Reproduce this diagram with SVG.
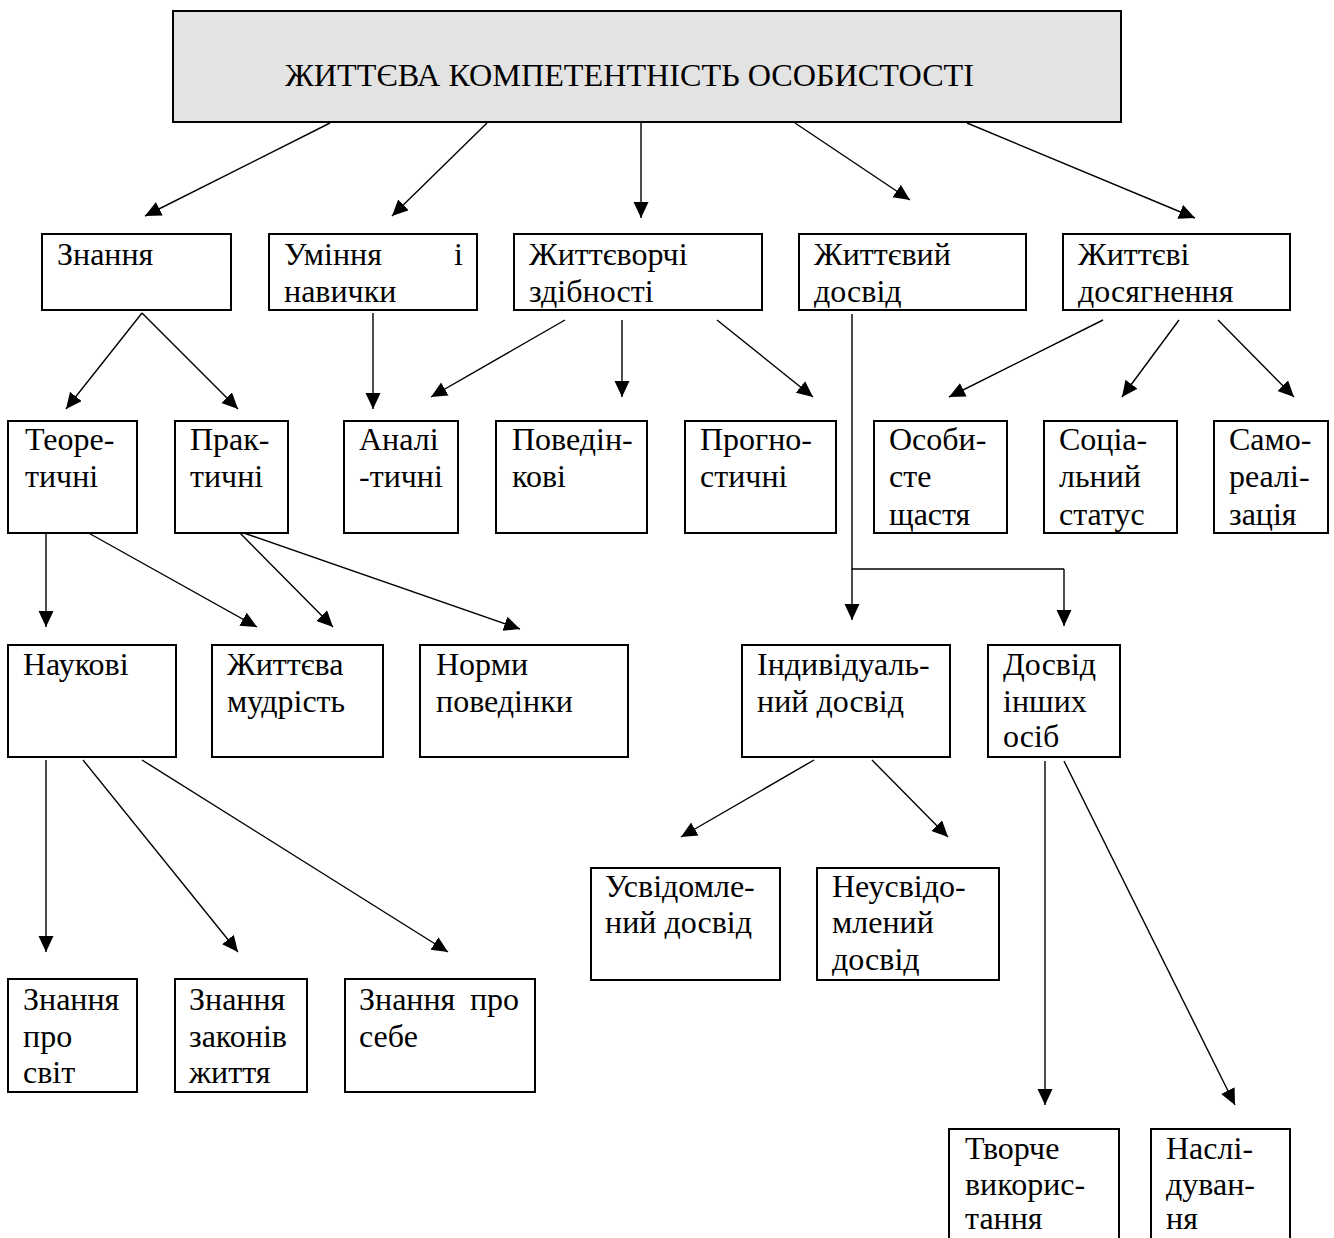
<svg xmlns="http://www.w3.org/2000/svg" width="1334" height="1238" viewBox="0 0 1334 1238">
<style>
.b{fill:#fff;stroke:#000;stroke-width:2}
.t{font-family:"Liberation Serif","Times New Roman",serif;font-size:32px;fill:#000}
.c{fill:none;stroke:#000;stroke-width:1.4}
</style>
<defs>
<marker id="ah" markerUnits="userSpaceOnUse" markerWidth="18" markerHeight="16" refX="16" refY="7.5" orient="auto">
<path d="M0,0 L16,7.5 L0,15 z" fill="#000"/>
</marker>
</defs>
<rect width="1334" height="1238" fill="#fff"/>
<g id="connectors">
<line class="c" x1="330" y1="123" x2="145" y2="216" marker-end="url(#ah)"/>
<line class="c" x1="487" y1="123" x2="392" y2="216" marker-end="url(#ah)"/>
<line class="c" x1="641" y1="123" x2="641" y2="218" marker-end="url(#ah)"/>
<line class="c" x1="795" y1="123" x2="910" y2="200" marker-end="url(#ah)"/>
<line class="c" x1="967" y1="123" x2="1195" y2="218" marker-end="url(#ah)"/>
<line class="c" x1="142" y1="313" x2="66" y2="409" marker-end="url(#ah)"/>
<line class="c" x1="142" y1="313" x2="238" y2="409" marker-end="url(#ah)"/>
<line class="c" x1="373" y1="313" x2="373" y2="409" marker-end="url(#ah)"/>
<line class="c" x1="565" y1="320" x2="431" y2="397" marker-end="url(#ah)"/>
<line class="c" x1="622" y1="320" x2="622" y2="397" marker-end="url(#ah)"/>
<line class="c" x1="717" y1="320" x2="813" y2="397" marker-end="url(#ah)"/>
<polyline class="c" points="852,314 852,569 1064,569"/>
<line class="c" x1="852" y1="569" x2="852" y2="620" marker-end="url(#ah)"/>
<line class="c" x1="1064" y1="569" x2="1064" y2="626" marker-end="url(#ah)"/>
<line class="c" x1="1103" y1="320" x2="949" y2="397" marker-end="url(#ah)"/>
<line class="c" x1="1179" y1="320" x2="1122" y2="397" marker-end="url(#ah)"/>
<line class="c" x1="1218" y1="320" x2="1294" y2="397" marker-end="url(#ah)"/>
<line class="c" x1="46" y1="533" x2="46" y2="627" marker-end="url(#ah)"/>
<line class="c" x1="85" y1="531" x2="257" y2="627" marker-end="url(#ah)"/>
<line class="c" x1="238" y1="531" x2="333" y2="627" marker-end="url(#ah)"/>
<line class="c" x1="238" y1="531" x2="520" y2="629" marker-end="url(#ah)"/>
<line class="c" x1="46" y1="760" x2="46" y2="952" marker-end="url(#ah)"/>
<line class="c" x1="83" y1="760" x2="238" y2="952" marker-end="url(#ah)"/>
<line class="c" x1="142" y1="760" x2="448" y2="952" marker-end="url(#ah)"/>
<line class="c" x1="814" y1="760" x2="681" y2="837" marker-end="url(#ah)"/>
<line class="c" x1="872" y1="760" x2="948" y2="837" marker-end="url(#ah)"/>
<line class="c" x1="1045" y1="761" x2="1045" y2="1105" marker-end="url(#ah)"/>
<line class="c" x1="1064" y1="761" x2="1235" y2="1105" marker-end="url(#ah)"/>
</g>
<g id="root">
<rect x="173" y="11" width="948" height="111" fill="#e3e3e3" stroke="#000" stroke-width="2"/>
<text class="t" x="285" y="86" font-size="36" textLength="689" lengthAdjust="spacingAndGlyphs">ЖИТТЄВА КОМПЕТЕНТНІСТЬ ОСОБИСТОСТІ</text>
</g>
<g id="n-znannia"><rect class="b" x="42" y="234" width="189" height="76"/><text class="t" x="57" y="265">Знання</text></g>
<g id="n-uminnia"><rect class="b" x="269" y="234" width="208" height="76"/><text class="t"><tspan x="284" y="265">Уміння</tspan><tspan x="463" y="265" text-anchor="end">і</tspan><tspan x="284" y="302">навички</tspan></text></g>
<g id="n-zhyttetvorchi"><rect class="b" x="514" y="234" width="248" height="76"/><text class="t"><tspan x="529" y="265">Життєворчі</tspan><tspan x="529" y="302">здібності</tspan></text></g>
<g id="n-dosvid"><rect class="b" x="799" y="234" width="227" height="76"/><text class="t"><tspan x="814" y="265">Життєвий</tspan><tspan x="814" y="302">досвід</tspan></text></g>
<g id="n-dosiahnennia"><rect class="b" x="1063" y="234" width="227" height="76"/><text class="t"><tspan x="1078" y="265">Життєві</tspan><tspan x="1078" y="302">досягнення</tspan></text></g>
<g id="n-teor"><rect class="b" x="8" y="421" width="129" height="112"/><text class="t"><tspan x="25" y="450">Теоре-</tspan><tspan x="25" y="487">тичні</tspan></text></g>
<g id="n-prakt"><rect class="b" x="175" y="421" width="113" height="112"/><text class="t"><tspan x="190" y="450">Прак-</tspan><tspan x="190" y="487">тичні</tspan></text></g>
<g id="n-anal"><rect class="b" x="344" y="421" width="114" height="112"/><text class="t"><tspan x="359" y="450">Аналі</tspan><tspan x="359" y="487">-тичні</tspan></text></g>
<g id="n-poved"><rect class="b" x="496" y="421" width="151" height="112"/><text class="t"><tspan x="512" y="450">Поведін-</tspan><tspan x="512" y="487">кові</tspan></text></g>
<g id="n-prohn"><rect class="b" x="685" y="421" width="151" height="112"/><text class="t"><tspan x="700" y="450">Прогно-</tspan><tspan x="700" y="487">стичні</tspan></text></g>
<g id="n-osob"><rect class="b" x="874" y="421" width="133" height="112"/><text class="t"><tspan x="889" y="450">Особи-</tspan><tspan x="889" y="487">сте</tspan><tspan x="889" y="525">щастя</tspan></text></g>
<g id="n-sots"><rect class="b" x="1044" y="421" width="133" height="112"/><text class="t"><tspan x="1059" y="450">Соціа-</tspan><tspan x="1059" y="487">льний</tspan><tspan x="1059" y="525">статус</tspan></text></g>
<g id="n-samo"><rect class="b" x="1214" y="421" width="114" height="112"/><text class="t"><tspan x="1229" y="450">Само-</tspan><tspan x="1229" y="487">реалі-</tspan><tspan x="1229" y="525">зація</tspan></text></g>
<g id="n-naukovi"><rect class="b" x="8" y="645" width="168" height="112"/><text class="t" x="23" y="675">Наукові</text></g>
<g id="n-mudrist"><rect class="b" x="212" y="645" width="171" height="112"/><text class="t"><tspan x="227" y="675">Життєва</tspan><tspan x="227" y="712">мудрість</tspan></text></g>
<g id="n-normy"><rect class="b" x="420" y="645" width="208" height="112"/><text class="t"><tspan x="436" y="675">Норми</tspan><tspan x="436" y="712">поведінки</tspan></text></g>
<g id="n-indyv"><rect class="b" x="742" y="645" width="208" height="112"/><text class="t"><tspan x="757" y="675">Індивідуаль-</tspan><tspan x="757" y="712">ний досвід</tspan></text></g>
<g id="n-inshykh"><rect class="b" x="988" y="645" width="132" height="112"/><text class="t"><tspan x="1003" y="675">Досвід</tspan><tspan x="1003" y="712">інших</tspan><tspan x="1003" y="747">осіб</tspan></text></g>
<g id="n-usvid"><rect class="b" x="591" y="868" width="189" height="112"/><text class="t"><tspan x="605" y="897">Усвідомле-</tspan><tspan x="605" y="933">ний досвід</tspan></text></g>
<g id="n-neusvid"><rect class="b" x="817" y="868" width="182" height="112"/><text class="t"><tspan x="832" y="897">Неусвідо-</tspan><tspan x="832" y="933">млений</tspan><tspan x="832" y="970">досвід</tspan></text></g>
<g id="n-svit"><rect class="b" x="8" y="979" width="129" height="113"/><text class="t"><tspan x="23" y="1010">Знання</tspan><tspan x="23" y="1047">про</tspan><tspan x="23" y="1083">світ</tspan></text></g>
<g id="n-zakoniv"><rect class="b" x="175" y="979" width="132" height="113"/><text class="t"><tspan x="189" y="1010">Знання</tspan><tspan x="189" y="1047">законів</tspan><tspan x="189" y="1083">життя</tspan></text></g>
<g id="n-sebe"><rect class="b" x="345" y="979" width="190" height="113"/><text class="t"><tspan x="359" y="1010">Знання</tspan><tspan x="519" y="1010" text-anchor="end">про</tspan><tspan x="359" y="1047">себе</tspan></text></g>
<g id="n-tvorche"><rect class="b" x="949" y="1129" width="170" height="115"/><text class="t"><tspan x="965" y="1159">Творче</tspan><tspan x="965" y="1195">викорис-</tspan><tspan x="965" y="1229">тання</tspan></text></g>
<g id="n-nasliduv"><rect class="b" x="1151" y="1129" width="139" height="115"/><text class="t"><tspan x="1166" y="1159">Наслі-</tspan><tspan x="1166" y="1195">дуван-</tspan><tspan x="1166" y="1229">ня</tspan></text></g>
</svg>
